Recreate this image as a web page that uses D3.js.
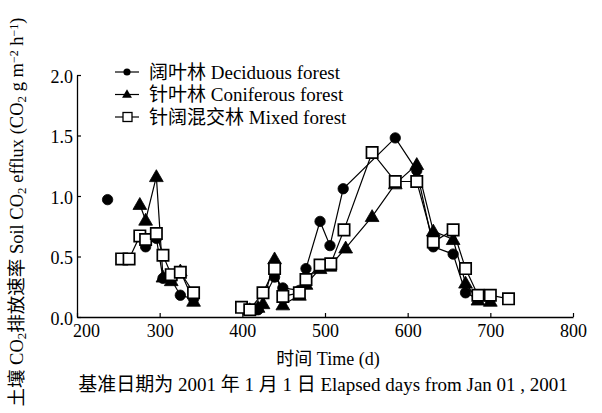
<!DOCTYPE html>
<html>
<head>
<meta charset="utf-8">
<script src="https://cdn.jsdelivr.net/npm/d3@7"></script>
<style>
  html, body { margin: 0; padding: 0; background: #fff; }
  svg { display: block; }
  text { font-family: "Liberation Serif", "Noto Sans CJK SC", serif; fill: #000; }
</style>
</head>
<body>
<svg id="chart" width="602" height="413"></svg>
<script>
// Soil CO2 efflux, days elapsed since 2001-01-01
const deciduousDays = [237, 283, 296, 304, 314, 325, 341,
  399, 409, 419, 439, 449, 469, 477, 494, 506, 522, 585, 611, 631, 655, 670, 685, 700];
const deciduousFlux = [0.97, 0.58, 0.65, 0.32, 0.31, 0.18, 0.15,
  0.08, 0.06, 0.06, 0.33, 0.24, 0.22, 0.40, 0.79, 0.59, 1.06, 1.48, 1.21, 0.58, 0.52, 0.20, 0.15, 0.15];

const coniferousDays = [276, 283, 296, 304, 314, 325, 341,
  409, 419, 425, 439, 449, 469, 477, 494, 506, 525, 557, 585, 611, 631, 655, 670, 685, 700];
const coniferousFlux = [0.93, 0.80, 1.16, 0.33, 0.30, 0.38, 0.13,
  0.06, 0.08, 0.11, 0.48, 0.10, 0.18, 0.27, 0.40, 0.42, 0.57, 0.83, 1.10, 1.26, 0.71, 0.64, 0.28, 0.14, 0.13];

const mixedDays = [254, 263, 276, 283, 296, 304, 314, 325, 341,
  399, 409, 425, 439, 449, 469, 477, 494, 507, 523, 557, 585, 611, 631, 655, 670, 685, 700, 722];
const mixedFlux = [0.48, 0.48, 0.67, 0.64, 0.69, 0.51, 0.35, 0.37, 0.20,
  0.08, 0.06, 0.20, 0.40, 0.17, 0.20, 0.31, 0.43, 0.44, 0.72, 1.36, 1.12, 1.12, 0.62, 0.72, 0.40, 0.18, 0.18, 0.15];

// Measurement campaigns begin on these days; lines are not drawn across them
const campaignStarts = [250, 370];

const xTicks = [200, 300, 400, 500, 600, 700, 800];
const yTicks = [0, 0.5, 1.0, 1.5, 2.0];

const legendLabels = ["阔叶林 Deciduous forest", "针叶林 Coniferous forest", "针阔混交林 Mixed forest"];

const series = [
  { name: legendLabels[0], days: deciduousDays, flux: deciduousFlux, symbol: "circle" },
  { name: legendLabels[1], days: coniferousDays, flux: coniferousFlux, symbol: "triangle" },
  { name: legendLabels[2], days: mixedDays, flux: mixedFlux, symbol: "square" }
];

const svg = d3.select("#chart");
const plotLeft = 77, plotRight = 573, plotTop = 75, plotBottom = 317;

const x = d3.scaleLinear().domain([200, 800]).range([plotLeft, plotRight]);
const y = d3.scaleLinear().domain([0, 2]).range([plotBottom, plotTop]);

// axes: left and bottom only, ticks pointing into the plot
const yAxis = d3.axisLeft(y).tickValues(yTicks).tickFormat(d3.format(".1f"))
  .tickSizeInner(-4).tickSizeOuter(0).tickPadding(4);
const xAxis = d3.axisBottom(x).tickValues(xTicks).tickFormat(d3.format("d"))
  .tickSizeInner(-4).tickSizeOuter(0).tickPadding(6);

const gy = svg.append("g").attr("transform", `translate(${plotLeft},0)`).call(yAxis);
const gx = svg.append("g").attr("transform", `translate(0,${plotBottom})`).call(xAxis);
[gx, gy].forEach(g => {
  g.select(".domain").attr("stroke", "#000").attr("stroke-width", 1.3);
  g.selectAll(".tick line").attr("stroke", "#000").attr("stroke-width", 1.2);
  g.selectAll(".tick text").style("font-family", "'Liberation Serif', serif").style("font-size", "18px");
});
gy.selectAll(".tick text").attr("dy", "0.4em");
gx.selectAll(".tick text").attr("dy", "0.8em");
// first x label sits just right of the corner so it clears the 0.0 label
gx.selectAll(".tick text").filter(d => d === xTicks[0]).attr("dx", 9);

const campaignOf = d => campaignStarts.filter(s => d >= s).length;

const line = d3.line().x(d => x(d.day)).y(d => y(d.flux));

const symbolType = { circle: d3.symbolCircle, triangle: d3.symbolTriangle, square: d3.symbolSquare };
const symbolSize = { circle: 85, triangle: 82, square: 128 };

function drawMarker(g, kind, cx, cy) {
  const path = d3.symbol().type(symbolType[kind]).size(symbolSize[kind])();
  const dy = kind === "triangle" ? 1 : 0;
  g.append("path")
    .attr("d", path)
    .attr("transform", `translate(${cx},${cy + dy})`)
    .attr("fill", kind === "square" ? "#fff" : "#000")
    .attr("stroke", "#000")
    .attr("stroke-width", kind === "square" ? 1.7 : 0.8);
}

// lines for each series, split by campaign
const lineLayer = svg.append("g");
series.forEach(s => {
  const pts = s.days.map((d, i) => ({ day: d, flux: s.flux[i], c: campaignOf(d) }));
  const groups = d3.groups(pts, p => p.c);
  groups.forEach(([, seg]) => {
    if (seg.length < 2) return;
    lineLayer.append("path")
      .attr("d", line(seg))
      .attr("fill", "none")
      .attr("stroke", "#000")
      .attr("stroke-width", 1.2);
  });
});

// markers (open squares drawn last)
const markerLayer = svg.append("g");
series.forEach(s => {
  s.days.forEach((d, i) => drawMarker(markerLayer, s.symbol, x(d), y(s.flux[i])));
});

// legend
const legend = svg.append("g");
series.forEach((s, i) => {
  const ly = 72 + i * 22.5;
  legend.append("line").attr("x1", 115).attr("x2", 139).attr("y1", ly).attr("y2", ly)
    .attr("stroke", "#000").attr("stroke-width", 1.2);
  const g = legend.append("g");
  if (s.symbol === "square") {
    g.append("rect").attr("x", 123).attr("y", ly - 4.5).attr("width", 9).attr("height", 9)
      .attr("fill", "#fff").attr("stroke", "#000").attr("stroke-width", 1.3);
  } else {
    g.append("path")
      .attr("d", d3.symbol().type(symbolType[s.symbol]).size(s.symbol === "circle" ? 40 : 42)())
      .attr("transform", `translate(127,${ly + (s.symbol === "triangle" ? 0.5 : 0)})`)
      .attr("fill", "#000");
  }
  legend.append("text").attr("x", 149).attr("y", ly).attr("dy", "0.35em")
    .style("font-size", "19px").text(s.name);
});

// y axis title with subscripts and superscripts
const yt = svg.append("text")
  .attr("transform", "translate(23,212) rotate(-90)")
  .attr("text-anchor", "middle")
  .style("font-size", "18.5px");
const parts = [
  ["土壤 CO", 0], ["2", -1], ["排放速率 Soil CO", 0], ["2", -1], ["  efflux (CO", 0], ["2", -1],
  [" g m", 0], ["−2", 1], [" h", 0], ["−1", 1], [")", 0]
];
parts.forEach(([t, k]) => {
  const ts = yt.append("tspan").text(t);
  if (k === -1) ts.attr("baseline-shift", "-25%").style("font-size", "13px");
  if (k === 1) ts.attr("baseline-shift", "40%").style("font-size", "12px");
});

// x axis titles
svg.append("text").attr("x", 328).attr("y", 365).attr("text-anchor", "middle")
  .style("font-size", "18px").text("时间 Time (d)");
svg.append("text").attr("x", 323).attr("y", 391).attr("text-anchor", "middle")
  .style("font-size", "19px").text("基准日期为 2001 年 1 月 1 日 Elapsed days from Jan 01 , 2001");
</script>
</body>
</html>
